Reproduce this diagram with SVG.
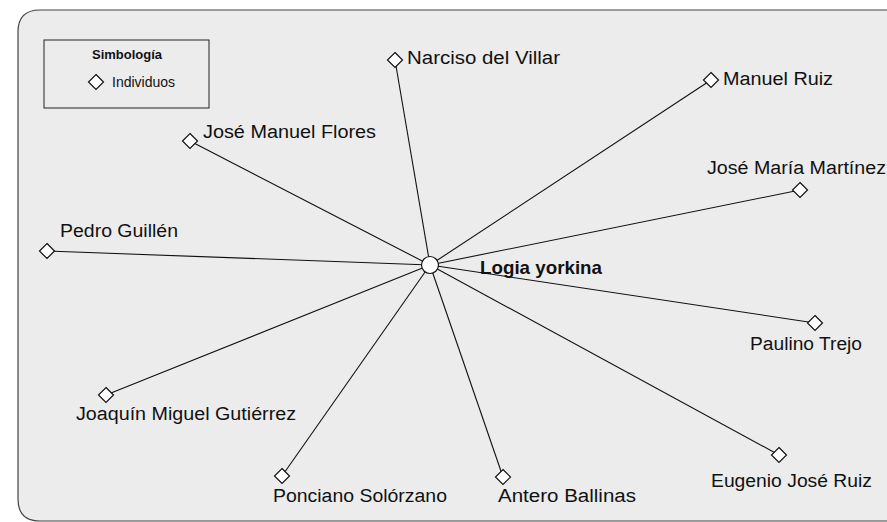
<svg xmlns="http://www.w3.org/2000/svg" width="887" height="522" viewBox="0 0 887 522">
<style>
.lbl{font-family:"Liberation Sans",Arial,sans-serif;font-size:18px;fill:#111}
.b{font-weight:bold}
.dia{fill:#fff;stroke:#111;stroke-width:1.2}
.edge{stroke:#111;stroke-width:1.1;fill:none}
</style>
<defs>
<path id="d" d="M0,-7.5 L7.5,0 L0,7.5 L-7.5,0 Z"/>
</defs>
<rect width="887" height="522" fill="#fff"/>
<path d="M887,10 H40 Q18,10 18,32 V499 Q18,521 40,521 H887" fill="#ececec" stroke="#444" stroke-width="1.2"/>
<g id="legend">
<rect x="44" y="40" width="165" height="68" fill="none" stroke="#222" stroke-width="1"/>
<text x="127" y="59" text-anchor="middle" class="lbl b" style="font-size:13px">Simbología</text>
<use href="#d" x="96" y="82" class="dia"/>
<text x="112" y="87" class="lbl" style="font-size:14px">Individuos</text>
</g>
<g id="connectors">
<line class="edge" x1="430" y1="265" x2="395" y2="60"/>
<line class="edge" x1="430" y1="265" x2="711" y2="80"/>
<line class="edge" x1="430" y1="265" x2="190" y2="141"/>
<line class="edge" x1="430" y1="265" x2="800" y2="190"/>
<line class="edge" x1="430" y1="265" x2="47" y2="251"/>
<line class="edge" x1="430" y1="265" x2="815" y2="323"/>
<line class="edge" x1="430" y1="265" x2="106" y2="395"/>
<line class="edge" x1="430" y1="265" x2="779" y2="455"/>
<line class="edge" x1="430" y1="265" x2="282" y2="476"/>
<line class="edge" x1="430" y1="265" x2="503" y2="477"/>
</g>
<g id="logia">
<circle cx="430" cy="265" r="8.5" fill="#fff" stroke="#111" stroke-width="1.2"/>
<text x="480" y="274" class="lbl b" style="font-size:19px" textLength="122" lengthAdjust="spacingAndGlyphs">Logia yorkina</text>
</g>
<g id="narciso"><use href="#d" x="395" y="60" class="dia"/><text x="407" y="64" class="lbl" textLength="153" lengthAdjust="spacingAndGlyphs">Narciso del Villar</text></g>
<g id="manuel"><use href="#d" x="711" y="80" class="dia"/><text x="723" y="85" class="lbl" textLength="110" lengthAdjust="spacingAndGlyphs">Manuel Ruiz</text></g>
<g id="jmflores"><use href="#d" x="190" y="141" class="dia"/><text x="203" y="138" class="lbl" textLength="173" lengthAdjust="spacingAndGlyphs">José Manuel Flores</text></g>
<g id="jmmartinez"><use href="#d" x="800" y="190" class="dia"/><text x="707" y="174" class="lbl" textLength="179" lengthAdjust="spacingAndGlyphs">José María Martínez</text></g>
<g id="pedro"><use href="#d" x="47" y="251" class="dia"/><text x="60" y="237" class="lbl" textLength="118" lengthAdjust="spacingAndGlyphs">Pedro Guillén</text></g>
<g id="paulino"><use href="#d" x="815" y="323" class="dia"/><text x="750" y="350" class="lbl" textLength="112" lengthAdjust="spacingAndGlyphs">Paulino Trejo</text></g>
<g id="joaquin"><use href="#d" x="106" y="395" class="dia"/><text x="76" y="420" class="lbl" textLength="220" lengthAdjust="spacingAndGlyphs">Joaquín Miguel Gutiérrez</text></g>
<g id="eugenio"><use href="#d" x="779" y="455" class="dia"/><text x="711" y="487" class="lbl" textLength="161" lengthAdjust="spacingAndGlyphs">Eugenio José Ruiz</text></g>
<g id="ponciano"><use href="#d" x="282" y="476" class="dia"/><text x="273" y="502" class="lbl" textLength="174" lengthAdjust="spacingAndGlyphs">Ponciano Solórzano</text></g>
<g id="antero"><use href="#d" x="503" y="477" class="dia"/><text x="498" y="502" class="lbl" textLength="138" lengthAdjust="spacingAndGlyphs">Antero Ballinas</text></g>
</svg>
